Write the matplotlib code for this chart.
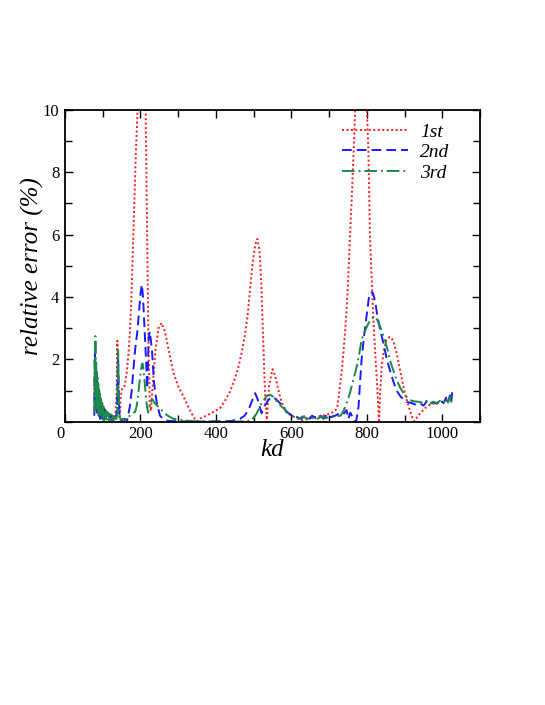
import matplotlib
matplotlib.use("Agg")
import matplotlib.pyplot as plt
from matplotlib.ticker import MultipleLocator

# ---- data ----
kd1 = [78, 79, 80, 81, 82, 83, 84, 85, 87, 88, 90, 91, 93, 95, 97, 99, 101, 104, 107, 110,
       114, 118, 122, 126, 130, 134, 137, 139, 141, 143, 145, 148, 152, 158, 163, 168, 172,
       176, 181, 185, 188, 192, 196, 203, 210, 214, 218, 221, 225, 228, 233, 240, 248, 256,
       265, 275, 287, 300, 318, 330, 345, 350, 360, 375, 390, 411, 425, 437, 448, 459, 468,
       477, 484, 490, 495, 499, 505, 510, 514, 517, 521, 524, 527, 530, 535, 541, 550, 555,
       561, 567, 574, 587, 600, 615, 630, 645, 660, 675, 690, 705, 716, 722, 729, 734, 738,
       743, 747, 751, 755, 760, 765, 769, 775, 790, 800, 804, 808, 813, 819, 824, 828, 832,
       835, 839, 845, 852, 860, 866, 872, 879, 888, 897, 905, 914, 920, 926, 933, 941, 955,
       967, 980, 994, 1005, 1015, 1025]
err1 = [0.6, 1.6, 0.4, 1.9, 0.7, 1.2, 0.3, 1.1, 0.3, 0.9, 0.2, 0.8, 0.3, 0.7, 0.2, 0.6, 0.3,
        0.5, 0.2, 0.35, 0.2, 0.3, 0.15, 0.25, 0.1, 0.3, 0.8, 2.6, 1.2, 0.3, 0.1, 0.8, 1.1,
        1.15, 1.5, 2.1, 2.8, 3.9, 5.9, 7.4, 8.6, 9.8, 11.5, 12.5, 11.5, 10.0, 6.0, 2.9, 0.5,
        0.35, 1.2, 2.3, 3.0, 3.17, 2.9, 2.3, 1.6, 1.15, 0.72, 0.4, 0.08, 0.02, 0.12, 0.2, 0.3,
        0.44, 0.7, 0.96, 1.3, 1.72, 2.2, 2.78, 3.4, 4.17, 4.8, 5.25, 5.7, 5.86, 5.6, 5.25,
        4.2, 3.1, 1.9, 0.96, 0.07, 1.18, 1.69, 1.55, 1.28, 0.95, 0.64, 0.32, 0.2, 0.12, 0.05,
        0.1, 0.15, 0.18, 0.22, 0.28, 0.35, 0.5, 1.18, 1.7, 2.25, 3.0, 3.75, 4.7, 5.9, 7.2,
        8.7, 10.0, 11.5, 12.0, 10.0, 8.7, 6.05, 4.5, 2.84, 1.8, 1.0, 0.05, 0.9, 1.76, 2.3,
        2.62, 2.72, 2.68, 2.5, 2.2, 1.65, 1.12, 0.72, 0.37, 0.15, 0.02, 0.15, 0.28, 0.45,
        0.55, 0.6, 0.62, 0.66, 0.7, 0.78]

kd2 = [78, 79, 80, 81, 82, 83, 84, 85, 86, 87, 88, 90, 91, 93, 94, 96, 97, 99, 101, 103, 105,
       107, 110, 113, 116, 119, 122, 126, 130, 134, 138, 141, 143, 145, 150, 158, 165, 172,
       177, 181, 186, 192, 197, 201, 204, 207, 209, 212, 215, 218, 220, 222, 225, 228, 231,
       236, 243, 252, 262, 275, 300, 350, 400, 440, 464, 476, 486, 495, 504, 510, 515, 521,
       526, 530, 539, 546, 552, 560, 570, 580, 587, 600, 614, 625, 635, 645, 655, 665, 675,
       685, 695, 705, 716, 728, 738, 746, 751, 756, 761, 766, 772, 778, 782, 786, 793, 800,
       805, 810, 815, 819, 824, 828, 836, 844, 852, 861, 870, 879, 890, 906, 920, 930, 941,
       950, 958, 966, 976, 985, 995, 1003, 1010, 1016, 1020, 1023, 1026]
err2 = [0.2, 1.5, 2.4, 0.6, 1.9, 0.5, 1.6, 0.3, 1.3, 0.5, 1.1, 0.2, 0.9, 0.1, 0.7, 0.2, 0.6,
        0.05, 0.5, 0.1, 0.4, 0.05, 0.3, 0.1, 0.25, 0.0, 0.2, 0.05, 0.15, 0.05, 0.4, 2.2, 0.8,
        0.15, 0.05, 0.1, 0.05, 0.48, 1.0, 1.6, 2.3, 2.9, 3.6, 4.17, 4.4, 4.0, 3.5, 2.7, 2.0,
        1.07, 1.8, 2.7, 2.9, 2.6, 2.25, 1.28, 0.64, 0.2, 0.08, 0.03, 0.02, 0.01, 0.02, 0.03,
        0.1, 0.2, 0.37, 0.65, 0.92, 0.75, 0.54, 0.28, 0.4, 0.54, 0.7, 0.78, 0.8, 0.72, 0.6,
        0.45, 0.32, 0.22, 0.16, 0.1, 0.18, 0.08, 0.2, 0.12, 0.22, 0.1, 0.25, 0.15, 0.2, 0.28,
        0.25, 0.38, 0.1, 0.3, 0.18, 0.0, 0.05, 0.5, 1.3, 2.0, 2.8, 3.48, 3.95, 4.15, 4.15,
        4.0, 3.7, 3.37, 2.9, 2.52, 2.05, 1.66, 1.3, 1.0, 0.8, 0.64, 0.6, 0.55, 0.6, 0.52,
        0.65, 0.55, 0.64, 0.58, 0.72, 0.6, 0.78, 0.65, 0.85, 0.6, 0.95]

kd3 = [78, 79, 80, 81, 82, 83, 84, 85, 86, 87, 88, 89, 90, 91, 92, 93, 95, 96, 98, 99, 101,
       102, 104, 106, 108, 110, 112, 115, 118, 121, 124, 127, 130, 133, 136, 139, 141, 143,
       145, 148, 152, 158, 165, 172, 180, 186, 190, 194, 198, 201, 204, 206, 209, 212, 215,
       218, 221, 225, 229, 232, 238, 245, 252, 260, 270, 287, 314, 350, 400, 450, 480, 495,
       508, 515, 521, 528, 535, 544, 552, 565, 575, 583, 596, 610, 620, 630, 640, 650, 660,
       670, 680, 690, 700, 710, 720, 730, 738, 746, 755, 763, 773, 780, 786, 793, 800, 806,
       813, 822, 828, 835, 841, 848, 855, 861, 870, 879, 888, 897, 905, 914, 925, 941, 950,
       958, 967, 975, 985, 994, 1002, 1010, 1015, 1019, 1023, 1026]
err3 = [0.3, 2.0, 0.8, 2.75, 1.0, 1.9, 0.4, 1.6, 0.6, 1.4, 0.3, 1.2, 0.5, 1.0, 0.2, 0.9, 0.3,
        0.8, 0.1, 0.6, 0.2, 0.5, 0.05, 0.4, 0.1, 0.35, 0.05, 0.3, 0.05, 0.25, 0.05, 0.2, 0.0,
        0.15, 0.05, 0.3, 2.3, 1.0, 0.2, 0.05, 0.1, 0.05, 0.1, 0.2, 0.28, 0.32, 0.5, 0.85, 1.3,
        1.6, 1.85, 1.87, 1.6, 1.2, 0.77, 0.45, 0.3, 0.53, 0.68, 0.72, 0.6, 0.52, 0.44, 0.33,
        0.22, 0.1, 0.05, 0.02, 0.01, 0.01, 0.02, 0.05, 0.27, 0.45, 0.6, 0.72, 0.83, 0.87, 0.8,
        0.6, 0.48, 0.4, 0.24, 0.15, 0.1, 0.18, 0.12, 0.08, 0.15, 0.1, 0.18, 0.12, 0.15, 0.2,
        0.18, 0.2, 0.35, 0.6, 0.92, 1.3, 1.76, 2.2, 2.62, 2.85, 3.05, 3.2, 3.32, 3.37, 3.25,
        3.05, 2.85, 2.62, 2.3, 1.98, 1.65, 1.34, 1.1, 0.92, 0.8, 0.7, 0.66, 0.64, 0.6, 0.68,
        0.58, 0.65, 0.6, 0.68, 0.6, 0.75, 0.62, 0.8, 0.6, 0.85]

labels = ["1st", "2nd", "3rd"]
xticks = [0, 200, 400, 600, 800, 1000]
yticks = [2, 4, 6, 8, 10]

# ---- figure ----
plt.rcParams["font.family"] = ["Liberation Serif", "DejaVu Serif"]

fig = plt.figure(figsize=(5.45, 7.05), dpi=100)
ax = fig.add_axes([0.119, 0.4015, 0.762, 0.443])

ax.plot(kd1, err1, color="#ff1a1a", lw=1.4, linestyle=(0, (1.0, 1.3)), label=labels[0])
ax.plot(kd2, err2, color="#1a1aff", lw=1.4, linestyle=(0, (5.0, 2.6)), label=labels[1])
ax.plot(kd3, err3, color="#1a8a4a", lw=1.4, linestyle=(0, (6.5, 2.0, 1.0, 2.0)),
        label=labels[2])

ax.set_xlim(0, 1100)
ax.set_ylim(0, 10)
ax.set_xticks(xticks)
ax.set_yticks(yticks)
ax.xaxis.set_minor_locator(MultipleLocator(100))
ax.yaxis.set_minor_locator(MultipleLocator(1))
ax.tick_params(which="both", direction="in", top=True, right=True, width=1.0,
               labelsize=12, colors="black")
ax.tick_params(which="major", length=6, pad=4)
ax.tick_params(axis="x", which="major", pad=3)
ax.tick_params(which="minor", length=5)
for lab in ax.get_xticklabels():
    if lab.get_text() == "0":
        lab.set_horizontalalignment("right")
for s in ax.spines.values():
    s.set_linewidth(1.3)

ax.set_xlabel("kd", fontsize=18, fontstyle="italic", labelpad=-2)
ax.set_ylabel("relative error (%)", fontsize=18, fontstyle="italic", labelpad=-1)

leg = ax.legend(loc="upper left", bbox_to_anchor=(0.626, 1.013), frameon=False,
                handlelength=3.4, handletextpad=0.6, labelspacing=0.15,
                prop={"style": "italic", "size": 14})

fig.savefig("out.png", dpi=100)
